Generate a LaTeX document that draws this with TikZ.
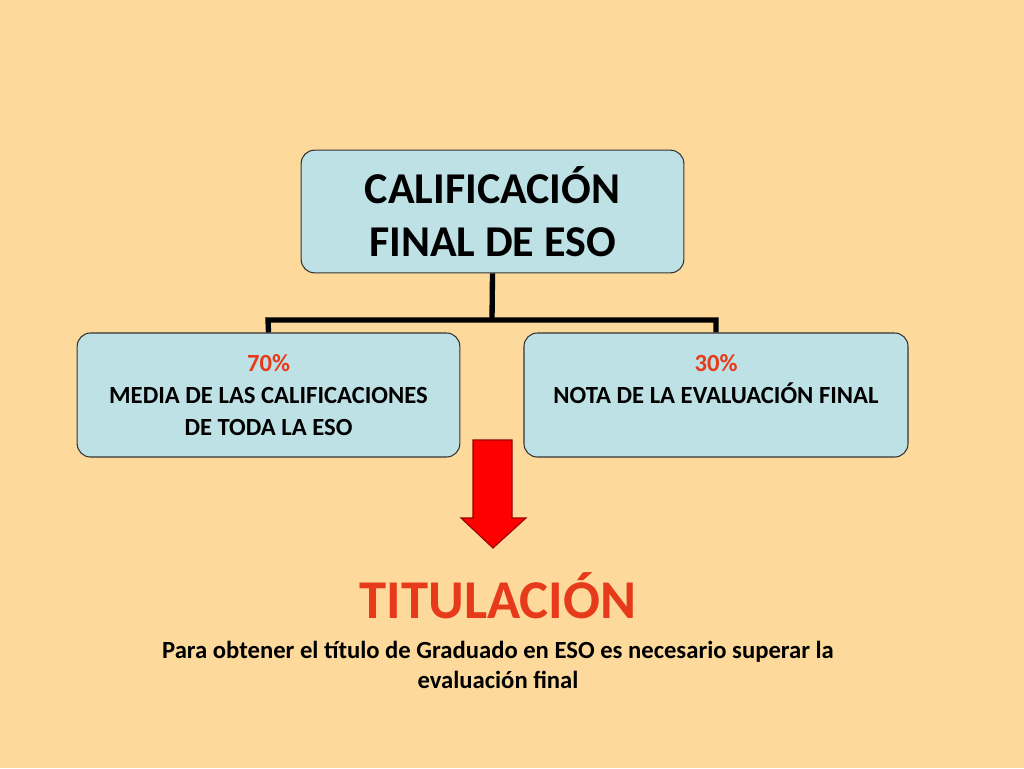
\documentclass[tikz,border=0pt]{standalone}
\usepackage{fontspec}
\setmainfont{Carlito}
\begin{document}
\begin{tikzpicture}[x=0.75pt,y=-0.75pt,
  box/.style={draw=black!80,line width=0.8pt,fill=boxblue,rounded corners=10pt,align=center,inner sep=0pt},
  conn/.style={line width=4pt,black}]
\definecolor{bg}{HTML}{FDDA9C}
\definecolor{boxblue}{HTML}{BEE1E6}
\definecolor{pred}{HTML}{E63A1A}
\fill[bg] (0,0) rectangle (1024,768);
\useasboundingbox (0,0) rectangle (1024,768);
\node[box,minimum width=287pt,minimum height=92pt,font=\bfseries\fontsize{33}{40}\selectfont] (top) at (492.5,211.5) {CALIFICACIÓN\\FINAL DE ESO};
\node[box,minimum width=287pt,minimum height=93pt,font=\bfseries\fontsize{18.5}{24}\selectfont] (left) at (268.5,395) {\textcolor{pred}{70\%}\\MEDIA DE LAS CALIFICACIONES\\DE TODA LA ESO};
\node[box,minimum width=288pt,minimum height=93pt,font=\bfseries\fontsize{18.5}{24}\selectfont] (right) at (716,395) {\textcolor{pred}{30\%}\\NOTA DE LA EVALUACIÓN FINAL\\\phantom{X}};
\coordinate (j) at (492,320);
\draw[conn] (top.south) -- (j);
\draw[conn] (left.north) -- (268,320) -- (716,320) -- (right.north);
\node[font=\bfseries\fontsize{41}{45}\selectfont,text=pred] (tit) at (498,596) {TITULACIÓN};
\draw[fill=red,draw=red!60!black,line width=0.8pt] (473,440) -- (512,440) -- (512,518) -- (526,518) -- (493,548) -- (461,518) -- (473,518) -- cycle;
\node[font=\bfseries\fontsize{18.5}{22.5}\selectfont,align=center] (para) at (498,665) {Para obtener el título de Graduado en ESO es necesario superar la\\evaluación final};
\end{tikzpicture}
\end{document}
